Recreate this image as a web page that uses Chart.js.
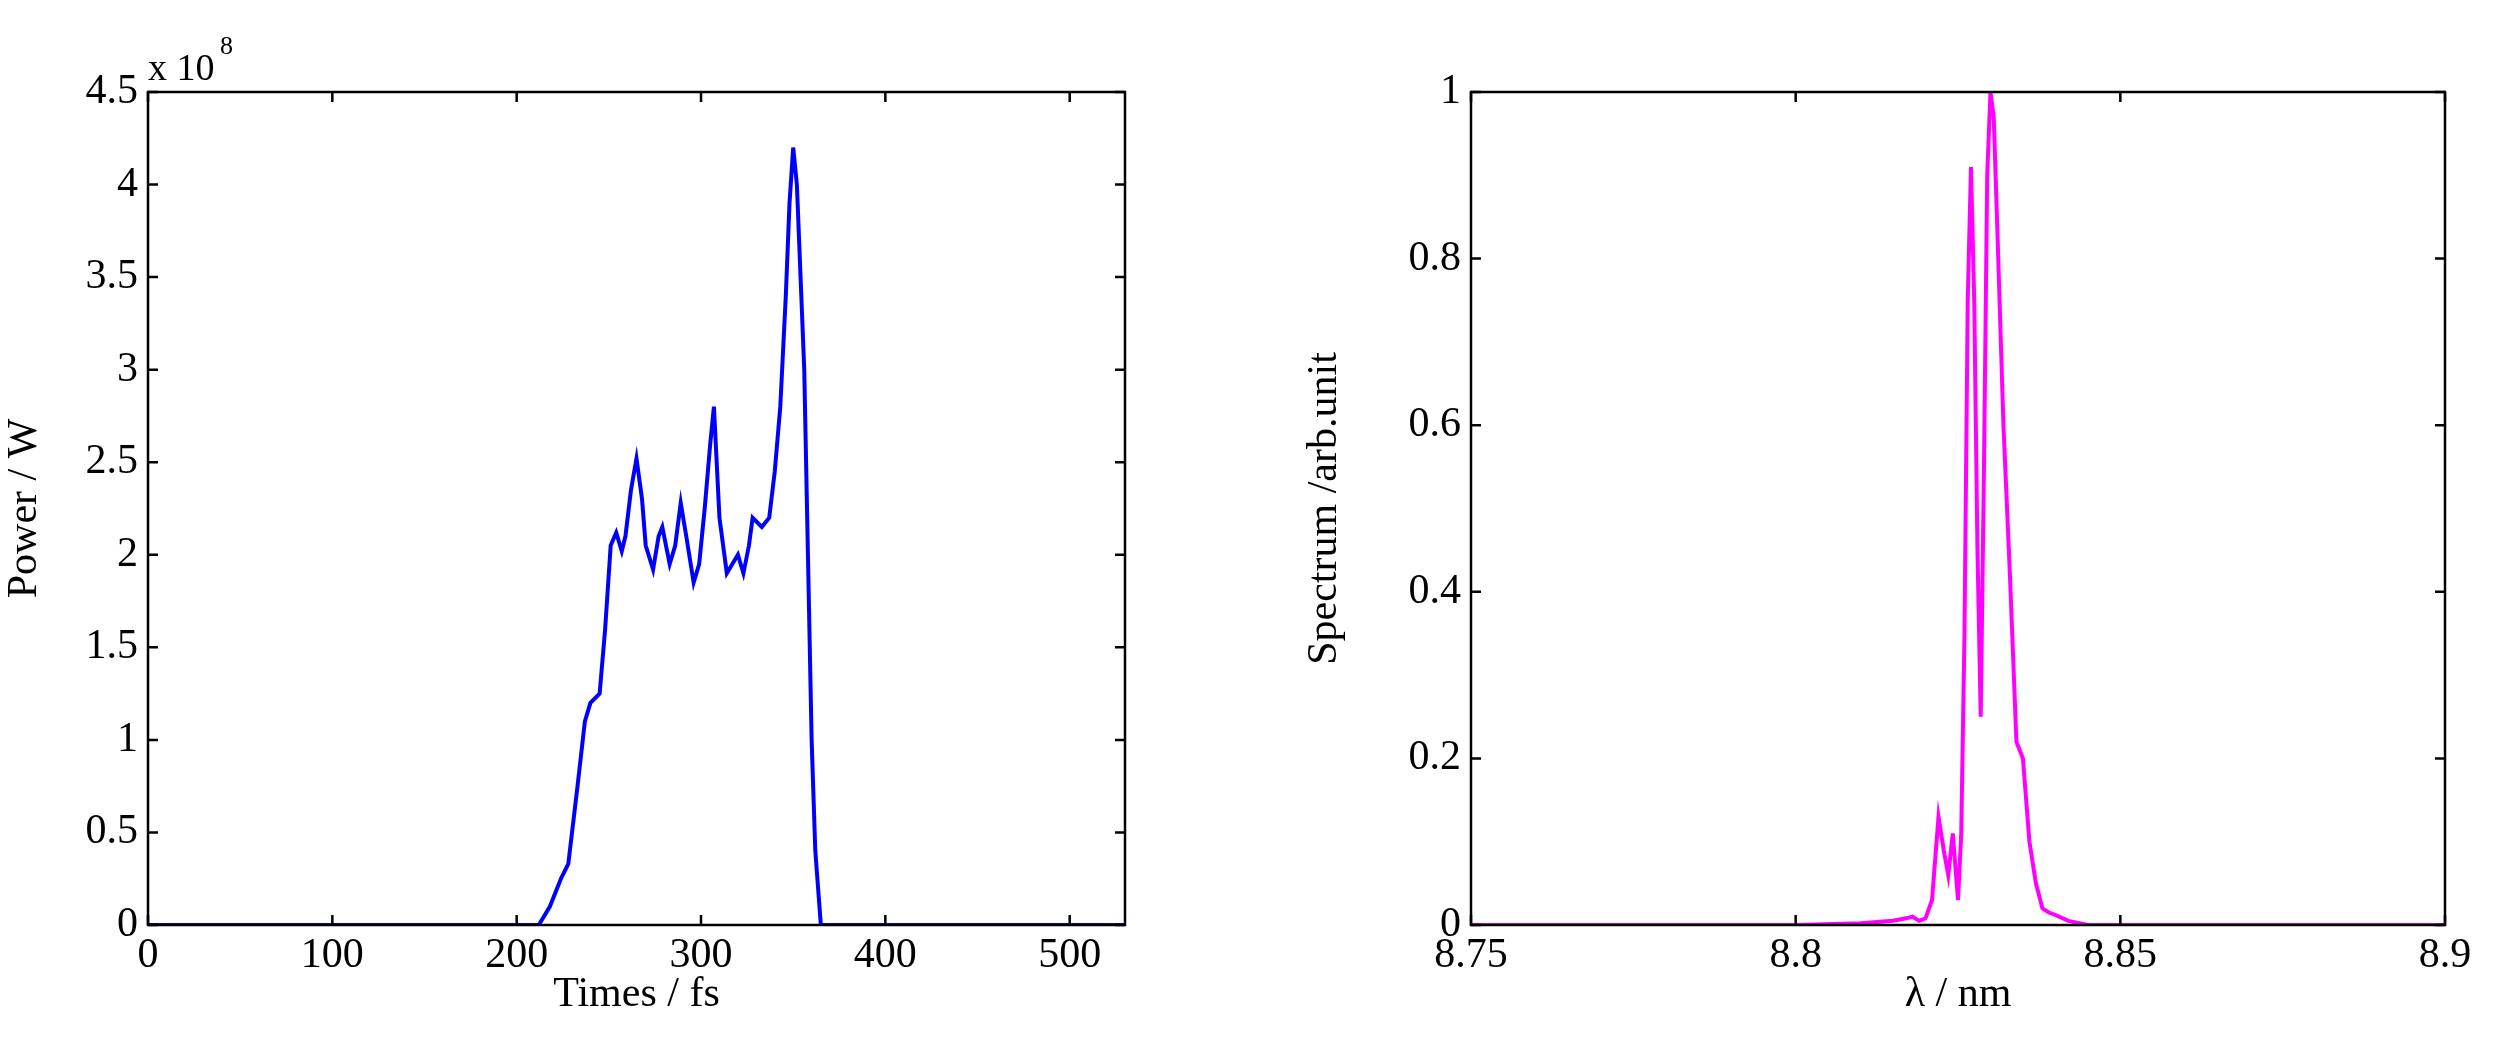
<!DOCTYPE html>
<html><head><meta charset="utf-8">
<script src="https://cdn.jsdelivr.net/npm/chart.js@4/dist/chart.umd.min.js"></script>
<style>body{margin:0;background:#fff}#a{position:absolute;left:0;top:0;width:1150px;height:1057px}#b{position:absolute;left:1300px;top:0;width:1194px;height:1057px}</style>
</head><body><div id="a"><canvas id="c1"></canvas></div><div id="b"><canvas id="c2"></canvas></div>
<script>
const timeFs=[0,100,200,212,218,224,228,233,237,240,245,248,251,254,257,259,262,265,268,270,274,277,279,283,286,289,292,296,299,302,305,307,310,314,317,320,323,326,328,333,337,340,343,346,348,350,352,356,358,360,362,365,400,530];
const powerE8=[0,0,0,0,0.1,0.25,0.33,0.75,1.1,1.2,1.25,1.6,2.05,2.12,2.02,2.1,2.35,2.52,2.3,2.05,1.92,2.1,2.15,1.95,2.05,2.28,2.1,1.85,1.95,2.25,2.6,2.8,2.2,1.9,1.95,2.0,1.9,2.05,2.2,2.15,2.2,2.45,2.8,3.4,3.9,4.2,4.0,3.0,2.0,1.0,0.4,0,0,0];
const lambdaNm=[8.75,8.80,8.81,8.815,8.817,8.818,8.819,8.82,8.821,8.822,8.8228,8.8235,8.8242,8.825,8.8255,8.826,8.8265,8.827,8.8275,8.828,8.8285,8.829,8.8295,8.830,8.8305,8.831,8.832,8.833,8.834,8.835,8.836,8.837,8.838,8.839,8.840,8.842,8.845,8.9];
const spectrum=[0,0,0.002,0.005,0.008,0.01,0.005,0.008,0.03,0.13,0.09,0.06,0.11,0.03,0.11,0.35,0.75,0.91,0.75,0.45,0.25,0.55,0.9,1.0,0.97,0.85,0.6,0.42,0.22,0.2,0.1,0.05,0.02,0.015,0.012,0.005,0,0];
const xTicks1=[0,100,200,300,400,500], yTicks1=[0,0.5,1,1.5,2,2.5,3,3.5,4,4.5];
const xTicks2=[8.75,8.8,8.85,8.9], yTicks2=[0,0.2,0.4,0.6,0.8,1];
const FONT='"Liberation Serif", "DejaVu Serif", serif';
Chart.defaults.font.family=FONT;Chart.defaults.color='#000';
const fmt=v=>String(+v.toFixed(3));
const boxPlugin={id:'box',afterDraw(ch,a,o){const c=ch.ctx,A=ch.chartArea;c.save();c.strokeStyle='#000';c.lineWidth=2.5;c.strokeRect(A.left,A.top,A.right-A.left,A.bottom-A.top);
const L=10;ch.scales.x.ticks.forEach(t=>{const p=ch.scales.x.getPixelForValue(t.value);c.beginPath();c.moveTo(p,A.bottom);c.lineTo(p,A.bottom-L);c.moveTo(p,A.top);c.lineTo(p,A.top+L);c.stroke();});
ch.scales.y.ticks.forEach(t=>{const p=ch.scales.y.getPixelForValue(t.value);c.beginPath();c.moveTo(A.left,p);c.lineTo(A.left+L,p);c.moveTo(A.right,p);c.lineTo(A.right-L,p);c.stroke();});
if(o.exp){c.fillStyle='#000';c.font='38px '+FONT;c.fillText('x 10',A.left,A.top-12);c.font='26px '+FONT;c.fillText('8',A.left+72,A.top-38);}c.restore();}};
function mk(id,xs,ys,col,xt,yt,xmin,xmax,ymax,xlab,ylab,yw,pad,exp){
return new Chart(document.getElementById(id),{type:'line',data:{datasets:[{data:xs.map((x,i)=>({x,y:ys[i]})),borderColor:col,borderWidth:4,pointRadius:0,tension:0}]},
plugins:[boxPlugin],options:{responsive:true,maintainAspectRatio:false,animation:false,layout:{padding:pad},
plugins:{legend:{display:false},tooltip:{enabled:false},box:{exp}},
scales:{x:{type:'linear',min:xmin,max:xmax,afterBuildTicks:s=>{s.ticks=xt.map(v=>({value:v}))},afterFit:s=>{s.height=95},grid:{display:false,drawTicks:false},border:{display:false},ticks:{font:{size:42},padding:6,callback:fmt},title:{display:true,text:xlab,font:{size:42},padding:0}},
y:{min:0,max:ymax,afterBuildTicks:s=>{s.ticks=yt.map(v=>({value:v}))},afterFit:s=>{s.width=yw},grid:{display:false,drawTicks:false},border:{display:false},ticks:{font:{size:42},padding:10,callback:fmt},title:{display:true,text:ylab,font:{size:42},padding:0}}}}});}
mk('c1',timeFs,powerE8,'#0000ff',xTicks1,yTicks1,0,530,4.5,'Times / fs','Power / W',148,{top:92,right:25,bottom:37},true);
mk('c2',lambdaNm,spectrum,'#ff00ff',xTicks2,yTicks2,8.75,8.9,1,'λ / nm','Spectrum /arb.unit',171,{top:92,right:49,bottom:37},false);
</script></body></html>
